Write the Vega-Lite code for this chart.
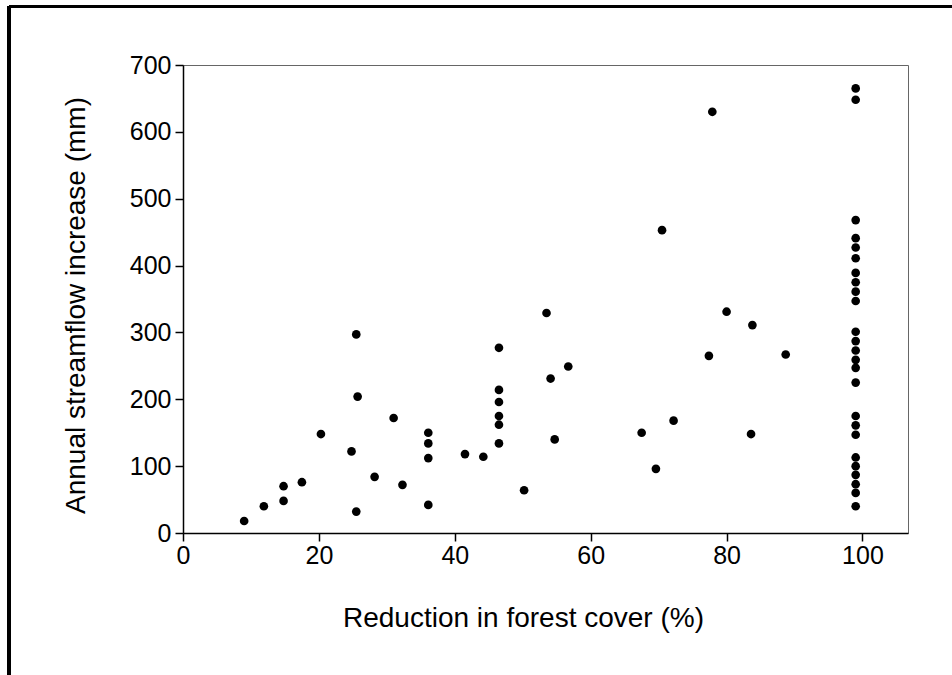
{
  "$schema": "https://vega.github.io/schema/vega-lite/v6.json",
  "width": 725,
  "height": 468,
  "autosize": {"type": "none"},
  "padding": {"left": 183, "top": 65, "right": 44, "bottom": 142},
  "background": "white",
  "config": {
    "font": "Liberation Sans",
    "view": {"stroke": "#666666", "strokeWidth": 1},
    "axis": {
      "grid": false,
      "domainColor": "black",
      "domainWidth": 1.5,
      "tickColor": "black",
      "tickWidth": 1.5,
      "tickSize": 8,
      "labelColor": "black",
      "titleColor": "black",
      "labelFont": "Liberation Sans",
      "titleFont": "Liberation Sans",
      "labelFontSize": 25,
      "titleFontSize": 28,
      "titleFontWeight": "normal",
      "labelFlush": false
    }
  },
  "data": {
    "values": [
      {"reduction": 9.0, "increase": 18},
      {"reduction": 11.9, "increase": 40},
      {"reduction": 14.8, "increase": 70},
      {"reduction": 14.8, "increase": 48},
      {"reduction": 17.5, "increase": 76},
      {"reduction": 20.3, "increase": 148},
      {"reduction": 24.8, "increase": 122},
      {"reduction": 25.5, "increase": 297},
      {"reduction": 25.7, "increase": 204},
      {"reduction": 25.5, "increase": 32},
      {"reduction": 28.2, "increase": 84},
      {"reduction": 31.0, "increase": 172},
      {"reduction": 32.3, "increase": 72},
      {"reduction": 36.1, "increase": 150},
      {"reduction": 36.1, "increase": 134},
      {"reduction": 36.1, "increase": 112},
      {"reduction": 36.1, "increase": 42},
      {"reduction": 41.5, "increase": 118},
      {"reduction": 44.2, "increase": 114},
      {"reduction": 46.5, "increase": 277},
      {"reduction": 46.5, "increase": 214},
      {"reduction": 46.5, "increase": 196},
      {"reduction": 46.5, "increase": 175},
      {"reduction": 46.5, "increase": 162},
      {"reduction": 46.5, "increase": 134},
      {"reduction": 50.2, "increase": 64},
      {"reduction": 53.5, "increase": 329},
      {"reduction": 54.1, "increase": 231},
      {"reduction": 54.7, "increase": 140},
      {"reduction": 56.7, "increase": 249},
      {"reduction": 67.5, "increase": 150},
      {"reduction": 69.6, "increase": 96},
      {"reduction": 70.5, "increase": 453},
      {"reduction": 72.2, "increase": 168},
      {"reduction": 77.4, "increase": 265},
      {"reduction": 77.9, "increase": 630},
      {"reduction": 80.0, "increase": 331},
      {"reduction": 83.6, "increase": 148},
      {"reduction": 83.8, "increase": 311},
      {"reduction": 88.7, "increase": 267},
      {"reduction": 99, "increase": 665},
      {"reduction": 99, "increase": 648},
      {"reduction": 99, "increase": 468},
      {"reduction": 99, "increase": 441},
      {"reduction": 99, "increase": 427},
      {"reduction": 99, "increase": 411},
      {"reduction": 99, "increase": 389},
      {"reduction": 99, "increase": 375},
      {"reduction": 99, "increase": 361},
      {"reduction": 99, "increase": 347},
      {"reduction": 99, "increase": 301},
      {"reduction": 99, "increase": 287},
      {"reduction": 99, "increase": 273},
      {"reduction": 99, "increase": 259},
      {"reduction": 99, "increase": 247},
      {"reduction": 99, "increase": 225},
      {"reduction": 99, "increase": 175},
      {"reduction": 99, "increase": 161},
      {"reduction": 99, "increase": 147},
      {"reduction": 99, "increase": 113},
      {"reduction": 99, "increase": 100},
      {"reduction": 99, "increase": 87},
      {"reduction": 99, "increase": 73},
      {"reduction": 99, "increase": 60},
      {"reduction": 99, "increase": 40}
    ]
  },
  "layer": [
    {
      "mark": {"type": "rule", "clip": false, "color": "black", "strokeWidth": 2.5},
      "encoding": {
        "x": {"datum": -25.6, "type": "quantitative", "scale": {"domain": [0, 106.7], "nice": false, "zero": false}},
        "x2": {"datum": 118},
        "y": {"datum": 788, "type": "quantitative", "scale": {"domain": [0, 700], "nice": false, "zero": false}}
      }
    },
    {
      "mark": {"type": "rule", "clip": false, "color": "black", "strokeWidth": 2.5},
      "encoding": {
        "x": {"datum": -25.6, "type": "quantitative", "scale": {"domain": [0, 106.7], "nice": false, "zero": false}},
        "y": {"datum": 788, "type": "quantitative", "scale": {"domain": [0, 700], "nice": false, "zero": false}},
        "y2": {"datum": -260}
      }
    },
    {
      "mark": {"type": "point", "filled": true, "color": "black", "opacity": 1, "size": 75},
      "encoding": {
        "x": {
          "field": "reduction",
          "type": "quantitative",
          "scale": {"domain": [0, 106.7], "nice": false, "zero": false},
          "axis": {"title": "Reduction in forest cover (%)", "values": [0, 20, 40, 60, 80, 100], "labelPadding": 2, "titlePadding": 36, "titleX": 340}
        },
        "y": {
          "field": "increase",
          "type": "quantitative",
          "scale": {"domain": [0, 700], "nice": false, "zero": false},
          "axis": {"title": "Annual streamflow increase (mm)", "values": [0, 100, 200, 300, 400, 500, 600, 700], "labelPadding": 4, "titlePadding": 39, "titleY": 240}
        }
      }
    }
  ]
}
